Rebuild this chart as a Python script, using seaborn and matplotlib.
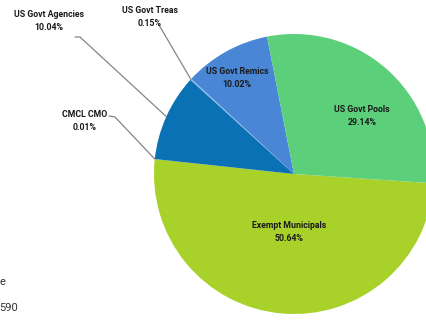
import matplotlib
matplotlib.use("Agg")
import matplotlib.pyplot as plt
import seaborn as sns
import numpy as np

# Data
categories = ["Exempt Municipals", "CMCL CMO", "US Govt Agencies", "US Govt Treas",
              "US Govt Remics", "US Govt Pools"]
values = [50.64, 0.01, 10.04, 0.15, 10.02, 29.14]
colors = ["#a8d12a", "#0a72b4", "#0a72b4", "#7fb3e6", "#4a86d6", "#5ccf7a"]

sns.set_theme(style="white")
plt.rcParams['font.family'] = ['Roboto', 'DejaVu Sans']

fig = plt.figure(figsize=(4.27, 3.2), dpi=100)
ax = fig.add_axes([0, 0, 1, 1])

cx, cy, r = 294, 146, 140
wedges, _ = ax.pie(values, colors=colors, startangle=-3.8, counterclock=False,
                   center=(cx, cy), radius=r,
                   wedgeprops=dict(linewidth=0.6, edgecolor="none"))
ax.set_xlim(0, 427)
ax.set_ylim(0, 320)
ax.set_aspect("equal")
ax.axis("off")

def edge_point(w, frac=0.5):
    ang = np.deg2rad(w.theta1 + (w.theta2 - w.theta1) * frac)
    return cx + r * np.cos(ang), cy + r * np.sin(ang)

def lab(i):
    return f"{categories[i]}\n{values[i]:.2f}%"

fs = 6.3
tk = dict(fontsize=fs, fontweight="bold", ha="center", va="center",
          color="#1a1a1a", linespacing=1.45)

# inside labels
ax.text(289, 88, lab(0), **tk)
ax.text(237, 242, lab(4), **tk)
ax.text(362, 204, lab(5), **tk)

# outside labels with leaders
lc = "#858585"
ax.text(49, 299, lab(2), **tk)
ex, ey = edge_point(wedges[2])
ax.plot([75, 80, ex], [283, 283, ey], color=lc, lw=0.9)

ax.text(150, 303, lab(3), **tk)
ex, ey = edge_point(wedges[3])
ax.plot([159, ex], [295, ey], color=lc, lw=0.9)

ax.text(85, 199, lab(1), **tk)
ex, ey = edge_point(wedges[1])
ax.plot([109, 115, ex], [204, 203, ey], color=lc, lw=0.9)

# cut-off text fragments at bottom-left
ax.text(-1, 38, "e", fontsize=8, ha="left", va="center", color="#333333")
ax.text(-1, 12, "590", fontsize=8, ha="left", va="center", color="#333333")

fig.savefig("out.png", dpi=100)
